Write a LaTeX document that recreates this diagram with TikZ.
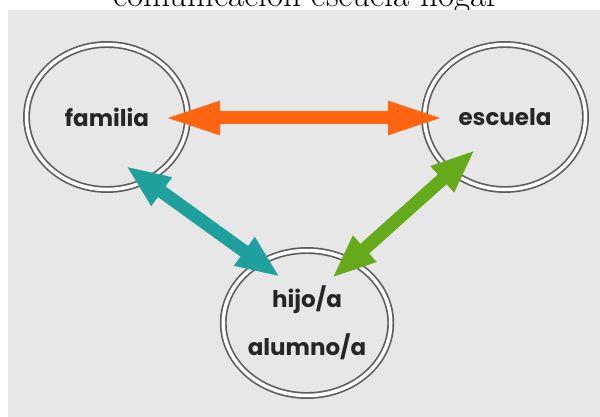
\documentclass[tikz,border=0pt]{standalone}
\usepackage{fontspec}
\newfontfamily\circfont{Poppins}
\usetikzlibrary{arrows.meta,shapes.geometric}
\definecolor{bggray}{HTML}{E7E7E7}
\definecolor{ringgray}{HTML}{5E5E5E}
\definecolor{arrorange}{HTML}{FF6410}
\definecolor{arrteal}{HTML}{1FA09C}
\definecolor{arrgreen}{HTML}{64AA1A}
\tikzset{
  ring/.style={ellipse, draw=ringgray, line width=1.7pt, double=white, double distance=3.5pt,
    minimum width=161pt, minimum height=145pt, inner sep=0pt, align=center,
    font=\circfont\bfseries\fontsize{23}{48}\selectfont, text=black!85},
  bigarrow/.style={line width=13pt, draw=#1,
    {Triangle[length=44pt,width=32pt]}-{Triangle[length=44pt,width=32pt]}},
  horarrow/.style={line width=13pt, draw=#1,
    {Triangle[length=57pt,width=30pt]}-{Triangle[length=57pt,width=30pt]}}
}
\begin{document}
\begin{tikzpicture}[x=1pt,y=-1pt]
\useasboundingbox (0,0) rectangle (600,417);
\clip (0,0) rectangle (600,417);
\node[anchor=base, inner sep=0pt, font=\fontsize{35}{40}\selectfont] (title) at (306,7) {comunicación escuela-hogar};
\fill[bggray] (8,10) rectangle (600,417);
\node[ring] (fam) at (107,117) {familia};
\node[ring] (esc) at (505,117) {escuela};
\node[ring] (hijo) at (307,323) {hijo/a\\alumno/a};
\coordinate (oa) at (163,118);
\coordinate (ob) at (445,118);
\coordinate (ta) at (126,166);
\coordinate (tb) at (280,277);
\coordinate (ga) at (475,150);
\coordinate (gb) at (332,278);
\draw[horarrow=arrorange] (oa) -- (ob);
\draw[bigarrow=arrteal] (ta) -- (tb);
\draw[bigarrow=arrgreen] (ga) -- (gb);
\end{tikzpicture}
\end{document}
